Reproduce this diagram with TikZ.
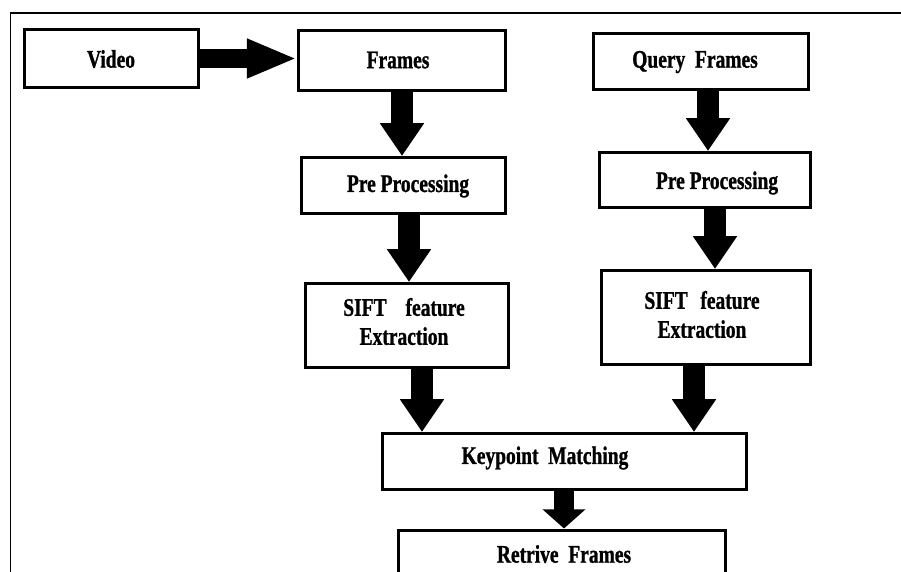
\documentclass[tikz,border=0pt]{standalone}
\usepackage{fontspec}
\setmainfont{Liberation Serif}[FakeStretch=0.77, FakeBold=1]
\usetikzlibrary{arrows.meta}

\begin{document}
\begin{tikzpicture}[x=0.025cm, y=-0.025cm]
			% Define styles
			\tikzset{box/.style 2 args={draw, line width=0.075cm, minimum width=#1*0.025cm, minimum height=#2*0.025cm, inner sep=0pt},
				lbl/.style={font=\fontsize{18}{20.6}\selectfont\bfseries, align=center, inner sep=0pt},
				fat/.style={line width=0.55cm, -{Triangle[width=1.05cm, length=0.82cm]}}}
			
			\useasboundingbox (0,0) rectangle (901,572);
			\clip (0,0) rectangle (901,572);
			
			% Outer frame
			\draw[line width=0.04cm] (10.5,572) -- (10.5,13) -- (901,13);
			
			% Boxes
			\node[box={174}{58}] (video) at (111.5,58.5) {};
			\node[box={207}{60}] (frames) at (402,60.5) {};
			\node[box={215}{56}] (query) at (701,61.5) {};
			\node[box={204}{56}] (preL) at (403.5,185.5) {};
			\node[box={211}{55}] (preR) at (705,180) {};
			\node[box={203}{84}] (siftL) at (407,325.5) {};
			\node[box={209}{94}] (siftR) at (706,317.5) {};
			\node[box={364}{56}] (match) at (564.5,461.5) {};
			\node[box={327}{80}] (retr) at (562,570) {};
			
			% Texts
			\node[lbl] (video-t) at (111,59) {Video};
			\node[lbl] (frames-t) at (398,60) {Frames};
			\node[lbl] (query-t) at (695,62) {Query\ \ Frames};
			\node[lbl] (preL-t) at (408,186) {Pre Processing};
			\node[lbl] (preR-t) at (717,183) {Pre Processing};
			\node[lbl] (siftL-t) at (404,321.5) {SIFT\hspace{0.75em}feature\\Extraction};
			\node[lbl] (siftR-t) at (702,314.5) {SIFT\hspace{0.5em}feature\\Extraction};
			\node[lbl] (match-t) at (545,458) {Keypoint\ \ Matching};
			\node[lbl] (retr-t) at (564,554) {Retrive\ \ Frames};
			
			% Arrow columns
			\coordinate (c1) at (402,0);
			\coordinate (c2) at (409,0);
			\coordinate (c3) at (708,0);
			\coordinate (c4) at (715,0);
			\coordinate (c5) at (422,0);
			\coordinate (c6) at (694,0);
			\coordinate (c7) at (564,0);
			
			% Arrows
			\draw[line width=0.45cm, -{Triangle[width=0.9cm, length=1.25cm]}] (video.east) -- (video.east -| frames.west);
			\draw[fat] (frames.south -| c1) -- (preL.north -| c1);
			\draw[fat] (preL.south -| c2) -- (siftL.north -| c2);
			\draw[fat] (query.south -| c3) -- (preR.north -| c3);
			\draw[fat] (preR.south -| c4) -- (siftR.north -| c4);
			\draw[fat] (siftL.south -| c5) -- (match.north -| c5);
			\draw[fat] (siftR.south -| c6) -- (match.north -| c6);
			\draw[line width=0.5cm, -{Triangle[width=1.05cm, length=0.48cm]}] (match.south -| c7) -- (retr.north -| c7);
		\end{tikzpicture}
\end{document}
